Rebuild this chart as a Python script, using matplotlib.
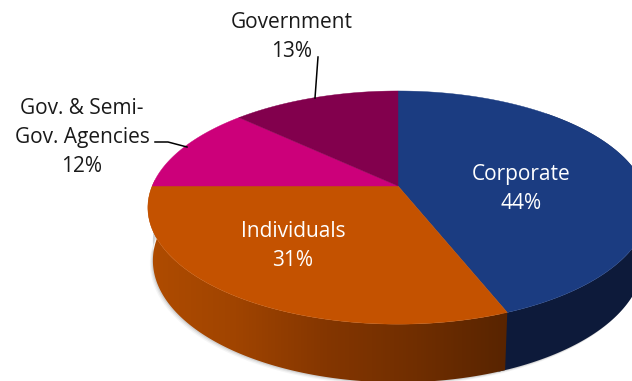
import numpy as np
import matplotlib
matplotlib.use("Agg")
import matplotlib.pyplot as plt
from matplotlib.colors import LinearSegmentedColormap
from matplotlib.patches import Polygon

categories = ["Corporate", "Individuals", "Gov. & Semi-\nGov. Agencies", "Government"]
shares = [44, 31, 12, 13]
top_colors = ["#1b3c81", "#c45200", "#cc007a", "#82004d"]

plt.rcParams["font.family"] = ["Open Sans", "DejaVu Sans"]

# Pie geometry in pixel units
APEX_X, APEX_Y = 398.0, 186.0
RX, RY, TILT = 245.8, 112.6, 0.185
BOTTOM_SCALE = 0.98


def rim(turn):
    """Project a clockwise-from-top turn (0..1) on to the tilted pie's rim."""
    a = 2 * np.pi * np.asarray(turn)
    dx, dy = np.sin(a), np.cos(a)
    w = 1 + TILT * dy
    return APEX_X + RX * dx / w, APEX_Y - RY * dy / w


def lower_rim(turn):
    x, y = rim(turn)
    return APEX_X + (x - APEX_X) * BOTTOM_SCALE, y + 52 + 0.045 * (y - APEX_Y)


def side_polygon(t0, t1):
    t = np.linspace(t0, t1, 200)
    xa, ya = rim(t)
    xb, yb = lower_rim(t)
    return np.column_stack([np.r_[xa, xb[::-1]], np.r_[ya, yb[::-1]]])


fig = plt.figure(figsize=(6.32, 3.81), dpi=100, facecolor="white")
ax = fig.add_axes([0, 0, 1, 1])
ax.set_xlim(0, 632)
ax.set_ylim(381, 0)
ax.axis("off")

edges = np.cumsum([0] + shares) / sum(shares)

# Soft shadow under the near side of the pie
t_near = np.linspace(0.16, 0.78, 200)
xs, ys = lower_rim(t_near)
for grow, alpha in zip([3.0, 2.0, 1.0], [0.05, 0.08, 0.12]):
    ax.fill(np.r_[xs - grow, xs[::-1]], np.r_[ys + grow, ys[::-1] - 20],
            color="#404040", alpha=alpha, lw=0, zorder=1)

# Near side: dark navy under Corporate, shaded band under Individuals
ax.add_patch(Polygon(side_polygon(0.12, edges[1] + 0.004), closed=True,
                     fc="#0d1a3a", ec="none", zorder=2))

side_orange = side_polygon(edges[1], edges[2] + 0.03)
orange_ramp = LinearSegmentedColormap.from_list(
    "side_orange", ["#b04c00", "#a04400", "#843600", "#702e00", "#582400"])
band = ax.imshow(np.linspace(0, 1, 256)[None, :], cmap=orange_ramp, aspect="auto",
                 extent=[145, 508, 381, 180], zorder=2)
ax.set_xlim(0, 632)
ax.set_ylim(381, 0)
clip = Polygon(side_orange, closed=True, transform=ax.transData, fc="none", ec="none")
ax.add_patch(clip)
band.set_clip_path(clip)

# Top face
for start, stop, color in zip(edges[:-1], edges[1:], top_colors):
    x, y = rim(np.linspace(start, stop, 200))
    ax.add_patch(Polygon(np.column_stack([np.r_[APEX_X, x], np.r_[APEX_Y, y]]),
                         closed=True, fc=color, ec=color, lw=0.3, zorder=3))

# Data labels
text_style = dict(ha="center", va="center", fontsize=15.0, linespacing=1.5, zorder=5)
label_xy = [(521, 189), (293, 246), (82, 137), (292, 37)]
label_colors = ["white", "white", "#1a1a1a", "#1a1a1a"]
for name, share, (lx, ly), tc in zip(categories, shares, label_xy, label_colors):
    ax.text(lx, ly, f"{name}\n{share}%", color=tc, **text_style)

# Leader lines for the outside labels
ax.plot([318, 315], [57, 98], color="black", lw=1.1, zorder=4)
ax.plot([155, 168, 187], [142, 142, 147], color="black", lw=1.1, zorder=4)

fig.savefig("out.png", dpi=100, facecolor="white")
